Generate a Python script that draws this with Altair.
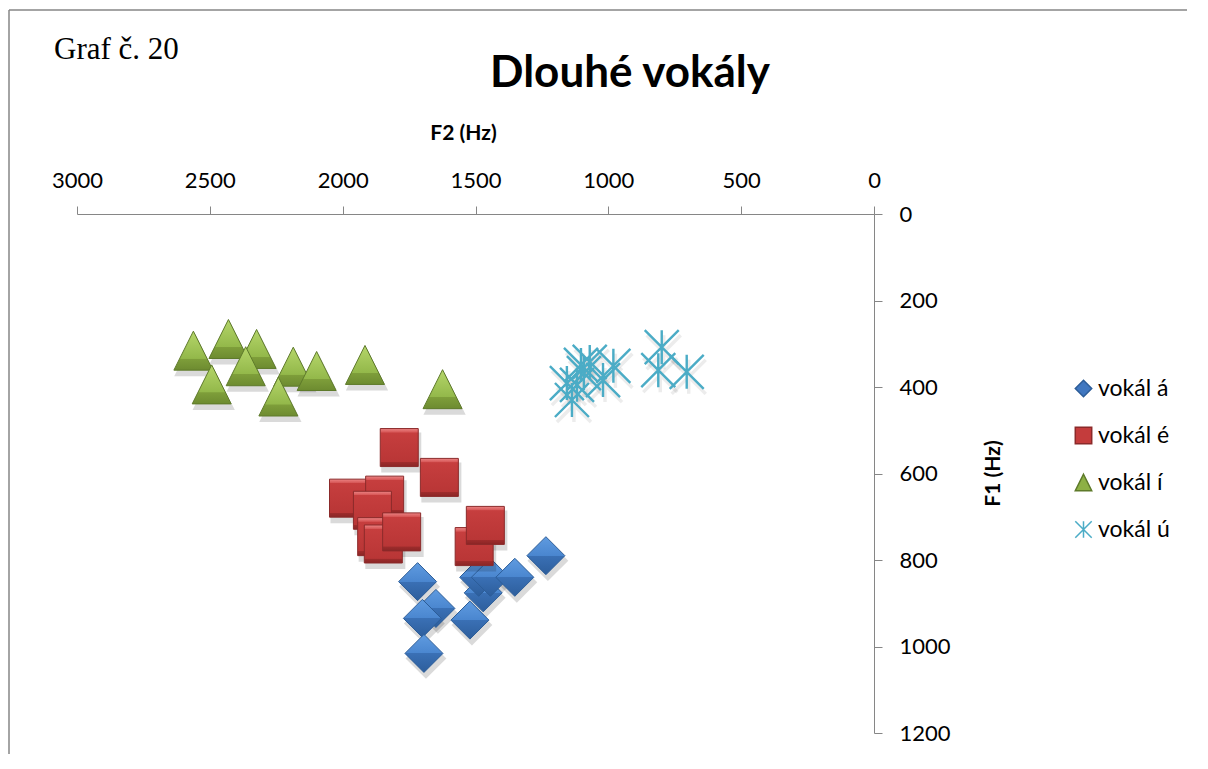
import altair as alt
import pandas as pd

# ---------------- data ----------------
series_names = ["vokál á", "vokál é", "vokál í", "vokál ú"]

a_f2 = [1718, 1649, 1700, 1694, 1521, 1471, 1488, 1444, 1352, 1235]
a_f1 = [850, 912, 935, 1016, 939, 876, 840, 840, 840, 790]

e_f2 = [1787, 1636, 1978, 1842, 1888, 1872, 1847, 1778, 1505, 1463]
e_f1 = [540, 609, 657, 650, 685, 746, 763, 735, 769, 720]

i_f2 = [2562, 2430, 2324, 2365, 2493, 2186, 2098, 2242, 1916, 1624]
i_f1 = [316, 289, 312, 352, 394, 353, 363, 422, 349, 405]

u_f2 = [1103, 981, 1020, 1137, 1156, 1092, 1118, 1070, 799, 812, 705]
u_f1 = [349, 351, 384, 430, 391, 368, 395, 342, 308, 361, 365]

x_ticks = [0, 500, 1000, 1500, 2000, 2500, 3000]
y_ticks = [0, 200, 400, 600, 800, 1000, 1200]

chart_title = "Dlouhé vokály"
corner_label = "Graf č. 20"
x_title = "F2 (Hz)"
y_title = "F1 (Hz)"

# ---------------- styles ----------------
TRI = "M0,-1L1,1L-1,1Z"
STAR = "M-1,-1L1,1M-1,1L1,-1M0,-1L0,1"
shape_range = ["diamond", "square", TRI, STAR]
fill_range = ["#4077C0", "#C43C3C", "#8DB045", "transparent"]
stroke_range = ["#2C5D98", "#8B2A2A", "#5E7A2A", "#4BACC6"]

rows = []
for name, f2s, f1s in zip(series_names, [a_f2, e_f2, i_f2, u_f2], [a_f1, e_f1, i_f1, u_f1]):
    for f2, f1 in zip(f2s, f1s):
        rows.append({"series": name, "F2": f2, "F1": f1})
df = pd.DataFrame(rows)

FONT = "Lato"
GRAY = "#868686"

xs = alt.Scale(domain=[0, 3000], reverse=True, nice=False, zero=False)
ys = alt.Scale(domain=[0, 1200], reverse=True, nice=False, zero=False)

x_axis = alt.Axis(orient="top", values=x_ticks, format="d", grid=False,
                  tickSize=8, labelPadding=14, domainColor=GRAY, tickColor=GRAY,
                  labelFont=FONT, labelFontSize=22, labelColor="black",
                  labelFlush=False, labelOverlap=False,
                  title=x_title, titleFont=FONT, titleFontSize=21, titleFontWeight="bold",
                  titleColor="black", titleX=386, titleY=-81, titleAlign="center",
                  titleBaseline="middle")
y_axis = alt.Axis(orient="right", values=y_ticks, format="d", grid=False,
                  tickSize=8, labelPadding=17, domainColor=GRAY, tickColor=GRAY,
                  labelFont=FONT, labelFontSize=22, labelColor="black",
                  labelAlign="left", labelBaseline="middle",
                  labelFlush=False, labelOverlap=False,
                  title=y_title, titleFont=FONT, titleFontSize=21, titleFontWeight="bold",
                  titleColor="black", titleAngle=270, titleX=119, titleY=259,
                  titleAlign="center", titleBaseline="middle")

legend = alt.Legend(orient="none", legendX=995, legendY=163, title=None,
                    labelFont=FONT, labelFontSize=23, labelColor="black",
                    symbolSize=270, symbolStrokeWidth=1.5, rowPadding=23,
                    labelOffset=3, padding=0)

base = alt.Chart(df).encode(
    x=alt.X("F2:Q", scale=xs, axis=x_axis),
    y=alt.Y("F1:Q", scale=ys, axis=y_axis),
)

legend_layer = base.mark_point(filled=True, opacity=1, strokeWidth=1).encode(
    shape=alt.Shape("series:N", scale=alt.Scale(domain=series_names, range=shape_range), legend=legend),
    fill=alt.Fill("series:N", scale=alt.Scale(domain=series_names, range=fill_range), legend=legend),
    stroke=alt.Stroke("series:N", scale=alt.Scale(domain=series_names, range=stroke_range), legend=legend),
    size=alt.value(800),
)


def grad(stops):
    return {"gradient": "linear", "x1": 0, "y1": 0, "x2": 0, "y2": 1,
            "stops": [{"offset": o, "color": c} for o, c in stops]}


styled_specs = [
    (series_names[0], "diamond", 1444,
     grad([(0, "#5F9BE0"), (0.5, "#4A86CF"), (0.5, "#3A70B5"), (1, "#2D5E9C")]),
     "#2C5D98", 1, 0.14),
    (series_names[1], "square", 1444,
     grad([(0, "#EC8585"), (0.1, "#D65555"), (0.11, "#C63E3E"), (0.88, "#B93636"),
           (0.89, "#9E2C2C"), (1, "#8A2626")]),
     "#8B2A2A", 1, 0.14),
    (series_names[2], TRI, 1521,
     grad([(0, "#B5D66A"), (0.7, "#93B84A"), (0.71, "#7E9E3A"), (1, "#6D8B30")]),
     "#5E7A2A", 1, 0.14),
    (series_names[3], STAR, 1156, "transparent", "#4BACC6", 2.4, 0.07),
]

styled = []
for name, shp, sz, fll, strk, sw, sh_op in styled_specs:
    sub = base.transform_filter(alt.datum.series == name)
    styled.append(
        sub.mark_point(filled=True, shape=shp, fill="#000000" if fll != "transparent" else "transparent",
                       stroke="#000000", strokeWidth=sw + 1, opacity=sh_op,
                       xOffset=2, yOffset=5).encode(size=alt.value(sz))
    )
    styled.append(
        sub.mark_point(filled=True, shape=shp, fill=fll, stroke=strk,
                       strokeWidth=sw, opacity=1).encode(size=alt.value(sz))
    )

one = alt.Data(values=[{"t": chart_title, "g": corner_label}])
title_txt = alt.Chart(one).mark_text(font=FONT, fontSize=44, fontWeight="bold",
                                      align="center", baseline="alphabetic",
                                      color="black").encode(
    text="t:N", x=alt.value(553), y=alt.value(-127))
corner_txt = alt.Chart(one).mark_text(font="Liberation Serif", fontSize=31,
                                       align="left", baseline="alphabetic",
                                       color="black").encode(
    text="g:N", x=alt.value(-23), y=alt.value(-155))

border_left = alt.Chart(one).mark_rule(color=GRAY, strokeWidth=1.5).encode(
    x=alt.value(-68), x2=alt.value(-68), y=alt.value(-204), y2=alt.value(560))
border_top = alt.Chart(one).mark_rule(color=GRAY, strokeWidth=1.5).encode(
    x=alt.value(-68), x2=alt.value(1110), y=alt.value(-204), y2=alt.value(-204))

chart = alt.layer(border_left, border_top, legend_layer, *styled,
                  title_txt, corner_txt).properties(
    width=797, height=519,
    autosize=alt.AutoSizeParams(type="none"),
    padding={"left": 69, "top": 206, "right": 314, "bottom": 21},
).configure(background="white").configure_view(stroke=None)

chart.save("out.html", embed_options={"renderer": "svg", "actions": False})
